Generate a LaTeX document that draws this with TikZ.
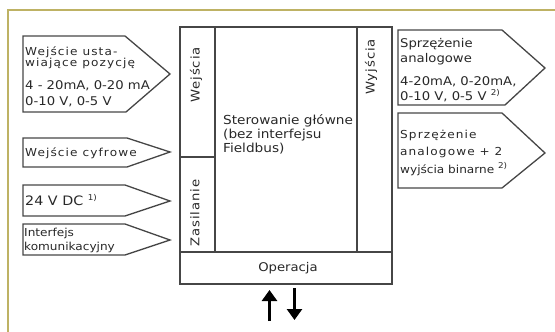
\documentclass[tikz,border=0pt]{standalone}
\usepackage{fontspec}
\setmainfont{DejaVu Sans}[FakeStretch=1.1]
\newfontfamily\spaced{DejaVu Sans}[FakeStretch=1.1,LetterSpace=10]
\newfontfamily\rotspaced{DejaVu Sans}[FakeStretch=1.1,LetterSpace=8]
\usetikzlibrary{arrows.meta}
\definecolor{framecol}{RGB}{190,178,100}
\definecolor{ink}{RGB}{70,70,70}
\definecolor{txt}{RGB}{40,40,40}
\newcommand{\supnote}[1]{\raisebox{4.5pt}{\fontsize{8}{8}\selectfont #1}}
\begin{document}
\begin{tikzpicture}[x=1pt,y=-1pt,
  box/.style={draw=ink,line width=1.3pt},
  framestyle/.style={draw=framecol,line width=1.2pt},
  lbl/.style={text=txt,inner sep=0pt,anchor=base west},
  rot/.style={text=txt,inner sep=0pt,rotate=90,font=\rotspaced\fontsize{12}{14}\selectfont},
  bigarrow/.style={line width=2.7pt,-{Triangle[length=11pt,width=15pt]}}]
\useasboundingbox (0,0) rectangle (555,332);
% outer frame (top and left edges)
\draw[framestyle] (8,332) -- (8,10) -- (555,10);
% main block
\draw[box] (180,27) rectangle (392,284);
\draw[box] (180,252) -- (392,252);
\draw[box] (215,27) -- (215,252);
\draw[box] (357,27) -- (357,252);
\draw[box] (180,157) -- (215,157);
% left pentagons
\draw[box] (23,36) -- (125,36) -- (170,74) -- (126,112) -- (23,112) -- cycle;
\draw[box] (23,138) -- (127,138) -- (170,152) -- (127,167) -- (23,167) -- cycle;
\draw[box] (23,185) -- (125,185) -- (170,201) -- (125,216) -- (23,216) -- cycle;
\draw[box] (23,224) -- (125,224) -- (170,240) -- (125,255) -- (23,255) -- cycle;
% right pentagons
\draw[box] (398,30) -- (502,30) -- (545,68) -- (505,105) -- (398,105) -- cycle;
\draw[box] (398,113) -- (502,113) -- (545,153) -- (502,188) -- (398,188) -- cycle;
% left texts
\node[lbl,font=\spaced\fontsize{11}{13}\selectfont] (l1a) at (25,55) {Wejście usta-};
\node[lbl,font=\spaced\fontsize{11}{13}\selectfont] (l1b) at (25,66) {wiające pozycję};
\node[lbl,font=\fontsize{12}{14}\selectfont] (l1c) at (25,89) {4 - 20mA, 0-20 mA};
\node[lbl,font=\fontsize{12}{14}\selectfont] (l1d) at (25,105) {0-10 V, 0-5 V};
\node[lbl,font=\spaced\fontsize{11}{13}\selectfont] (l2) at (25,156) {Wejście cyfrowe};
\node[lbl,font=\fontsize{13}{15}\selectfont] (l3) at (25,205) {24 V DC \supnote{1)}};
\node[lbl,font=\fontsize{11}{13}\selectfont] (l4a) at (24,236) {Interfejs};
\node[lbl,font=\fontsize{11}{13}\selectfont] (l4b) at (24,250) {komunikacyjny};
% right texts
\node[lbl,font=\fontsize{12}{14}\selectfont] (r1a) at (400,47) {Sprzężenie};
\node[lbl,font=\fontsize{12}{14}\selectfont] (r1b) at (400,62) {analogowe};
\node[lbl,font=\fontsize{12}{14}\selectfont] (r1c) at (400,85) {4-20mA, 0-20mA,};
\node[lbl,font=\fontsize{12}{14}\selectfont] (r1d) at (400,100) {0-10 V, 0-5 V \supnote{2)}};
\node[lbl,font=\spaced\fontsize{11}{13}\selectfont] (r2a) at (400,138) {Sprzężenie};
\node[lbl,font=\spaced\fontsize{11}{13}\selectfont] (r2b) at (400,155) {analogowe + 2};
\node[lbl,font=\fontsize{11}{13}\selectfont] (r2c) at (400,173) {wyjścia binarne \supnote{2)}};
% block labels
\node[rot] (win) at (196,75) {Wejścia};
\node[rot] (wout) at (371,67) {Wyjścia};
\node[rot] (zas) at (195,213) {Zasilanie};
\node[lbl,font=\fontsize{12.4}{14}\selectfont] (ster1) at (223,124) {Sterowanie główne};
\node[lbl,font=\fontsize{12.4}{14}\selectfont] (ster2) at (223,138) {(bez interfejsu};
\node[lbl,font=\fontsize{12.4}{14}\selectfont] (ster3) at (223,152) {Fieldbus)};
\node[text=txt,inner sep=0pt,font=\fontsize{12}{14}\selectfont] (oper) at (288,268) {Operacja};
% arrows
\coordinate (upS) at (269.5,321);
\coordinate (upE) at (269.5,290);
\coordinate (dnS) at (294.5,288);
\coordinate (dnE) at (294.5,320);
\draw[bigarrow] (upS) -- (upE);
\draw[bigarrow] (dnS) -- (dnE);
\end{tikzpicture}
\end{document}
